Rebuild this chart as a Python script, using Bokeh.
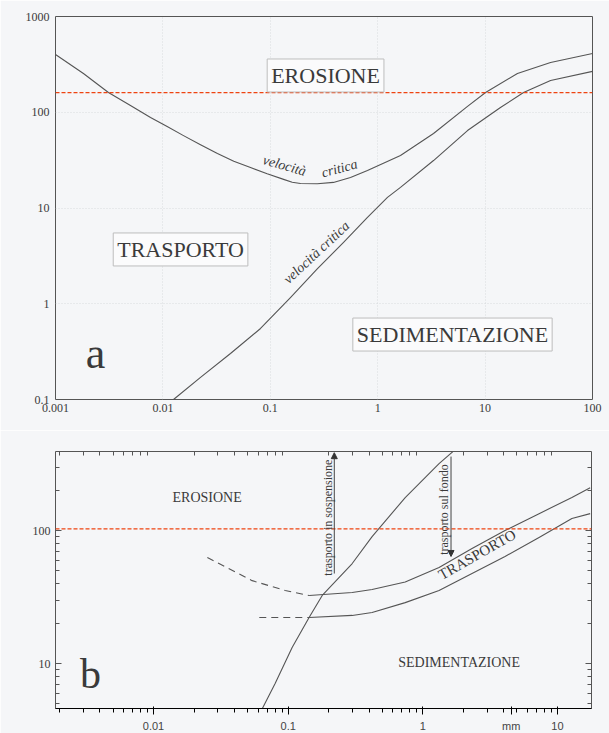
from bokeh.plotting import figure
from bokeh.models import (Label, Arrow, NormalHead, LogAxis, FixedTicker,
                          Range1d, Span)
from bokeh.layouts import column
from bokeh.embed import file_html
from bokeh.resources import INLINE

# ---------------- Panel a data ----------------
a_xticks = [0.001, 0.01, 0.1, 1, 10, 100]
a_xlabels = ["0.001", "0.01", "0.1", "1", "10", "100"]
a_yticks = [0.1, 1, 10, 100, 1000]
a_ylabels = ["0.1", "1", "10", "100", "1000"]

a_erosion_x = [0.001, 0.00182, 0.00311, 0.00499, 0.00767, 0.01096, 0.01556,
               0.0224, 0.0322, 0.0457, 0.0654, 0.0935, 0.133, 0.160, 0.191, 0.274,
               0.387, 0.558, 0.803, 1.63, 3.31, 6.86, 10.1, 20, 40.7, 100]
a_erosion_y = [401, 254, 161, 117.5, 88, 71, 57,
               45.7, 37, 30.8, 26.5, 22.8, 19.9, 18.6, 18.0, 17.9,
               18.5, 20.8, 24.6, 35.3, 60, 115, 161, 254, 331, 411]

a_settling_x = [0.01256, 0.0224, 0.0426, 0.0811, 0.154, 0.275, 0.481, 0.803, 1.233,
                1.63, 3.31, 6.86, 13.9, 22.8, 40.7, 100]
a_settling_y = [0.1, 0.170, 0.302, 0.552, 1.16, 2.33, 4.37, 7.96, 12.9,
                16.4, 31.3, 64.4, 112, 161, 215, 267]

a_threshold = 160

# ---------------- Panel b data ----------------
b_xticks = [0.01, 0.1, 1, 10]
b_xlabels = ["0.01", "0.1", "1", "10"]
b_unit_x = 4.53          # position of the "mm" unit text on the x axis
b_yticks = [10, 100]
b_ylabels = ["10", "100"]

b_settling_x = [0.0569, 0.080, 0.107, 0.143, 0.179, 0.299, 0.42, 0.74, 1.32, 1.71]
b_settling_y = [3.6, 7.08, 13.2, 22.2, 32.5, 56.5, 90, 177, 319, 400]

b_upper_dash_x = [0.0251, 0.054, 0.095, 0.143]
b_upper_dash_y = [62.7, 42, 35.4, 32.5]
b_upper_x = [0.143, 0.299, 0.42, 0.74, 1.32, 2.32, 4.08, 7.3, 12.8, 17.5]
b_upper_y = [32.5, 34.2, 36, 41, 52.7, 73.3, 100, 134, 177, 210]

b_lower_dash_x = [0.061, 0.143]
b_lower_dash_y = [22.2, 22.2]
b_lower_x = [0.143, 0.299, 0.42, 0.74, 1.32, 2.32, 4.08, 7.3, 12.8, 17.5]
b_lower_y = [22.2, 23, 24.2, 28.7, 35.4, 47.5, 63.8, 88.5, 123, 134]

b_threshold = 103

# ---------------- styling ----------------
SERIF = "Liberation Serif"
BG = "#f5f6f8"
INK = "#3a3a3a"
CURVE = "#555555"
RED = "#ee4411"


def base_fig(xr, yr, fw, fh, bl, br, bt, bb):
    p = figure(x_axis_type="log", y_axis_type="log", x_range=Range1d(*xr), y_range=Range1d(*yr),
               frame_width=fw, frame_height=fh, min_border_left=bl, min_border_right=br,
               min_border_top=bt, min_border_bottom=bb, output_backend="svg",
               toolbar_location=None, background_fill_color=BG, border_fill_color=BG)
    p.outline_line_color = "#555555"
    p.outline_line_width = 1
    return p


def lab(p, x, y, text, size, style="normal", angle=0, box=False, align="center",
        baseline="middle", **kw):
    extra = {}
    if box:
        extra = dict(background_fill_color="#fbfbfc", border_line_color="#bdbdbd", padding=4)
    p.add_layout(Label(x=x, y=y, text=text, text_font=SERIF, text_font_size=size,
                       text_font_style=style, text_color=INK, text_align=align,
                       text_baseline=baseline, angle=angle, angle_units="deg", **extra, **kw))


# ================= Panel a =================
pa = base_fig((0.001, 100), (0.1, 1000), 537, 383, 55, 17, 16, 31)
pa.xaxis.ticker = FixedTicker(ticks=a_xticks)
pa.yaxis.ticker = FixedTicker(ticks=a_yticks)
pa.xaxis.major_label_overrides = dict(zip(a_xticks, a_xlabels))
pa.yaxis.major_label_overrides = dict(zip(a_yticks, a_ylabels))
for ax in (pa.xaxis, pa.yaxis):
    ax.axis_line_color = None
    ax.major_tick_line_color = None
    ax.minor_tick_line_color = None
    ax.major_tick_out = 0
    ax.major_tick_in = 0
    ax.major_label_text_font = SERIF
    ax.major_label_text_font_size = "12px"
    ax.major_label_text_color = INK
pa.xaxis.major_label_standoff = 4
pa.yaxis.major_label_standoff = 6
pa.grid.grid_line_color = "#cfd0d4"
pa.grid.grid_line_dash = "1 2"
pa.grid.grid_line_alpha = 0.7

pa.add_layout(Span(location=a_threshold, dimension="width", line_color=RED,
                   line_dash="4 2", line_width=1.3))
pa.line(a_erosion_x, a_erosion_y, line_color=CURVE, line_width=1.1, line_join="round")
pa.line(a_settling_x, a_settling_y, line_color=CURVE, line_width=1.1, line_join="round")

lab(pa, 0.327, 242, "EROSIONE", "22px", box=True)
lab(pa, 0.0146, 3.69, "TRASPORTO", "22px", box=True)
lab(pa, 4.97, 0.477, "SEDIMENTAZIONE", "22px", box=True)
lab(pa, 0.00236, 0.302, "a", "44px")
lab(pa, 0.1355, 26.5, "velocità", "14px", style="italic", angle=-16, y_offset=2)
lab(pa, 0.44, 24.7, "critica", "14px", style="italic", angle=15, y_offset=2)
lab(pa, 0.306, 2.97, "velocità critica", "14px", style="italic", angle=43,
    x_offset=-6, y_offset=6)
lab(pa, 0.000756, 308, "cm/sec", "13px", style="italic", angle=90)
lab(pa, 30.8, 0.1, "mm", "13px", style="italic", y_offset=-9)

# ================= Panel b =================
b_minor_x = [m * 10.0 ** k for k in range(-3, 2) for m in range(2, 10)]
b_minor_y = [m * 10.0 ** k for k in range(0, 3) for m in range(2, 10)]

pb = base_fig((0.00187, 17.9), (4.59, 393), 536, 257, 53, 20, 21, 25)
pb.grid.visible = False
# bottom axis: decade labels plus the unit text; tick marks drawn as minor ticks
bottom_ticks = sorted(b_xticks + [b_unit_x])
pb.xaxis.ticker = FixedTicker(ticks=bottom_ticks, minor_ticks=b_minor_x + b_xticks)
pb.xaxis.major_label_overrides = {**dict(zip(b_xticks, b_xlabels)), b_unit_x: "mm"}
pb.yaxis.ticker = FixedTicker(ticks=b_yticks, minor_ticks=b_minor_y)
pb.yaxis.major_label_overrides = dict(zip(b_yticks, b_ylabels))

top_ax = LogAxis(ticker=FixedTicker(ticks=b_xticks, minor_ticks=b_minor_x),
                 major_label_overrides={t: "" for t in b_xticks})
right_ax = LogAxis(ticker=FixedTicker(ticks=b_yticks, minor_ticks=b_minor_y),
                   major_label_overrides={t: "" for t in b_yticks})
pb.add_layout(top_ax, "above")
pb.add_layout(right_ax, "right")

for ax in (pb.xaxis[0], pb.yaxis[0], top_ax, right_ax):
    ax.axis_line_color = None
    ax.major_tick_in = 6
    ax.major_tick_out = 0
    ax.minor_tick_in = 4
    ax.minor_tick_out = 0
    ax.major_tick_line_color = "#555555"
    ax.minor_tick_line_color = "#555555"
    ax.major_label_text_font = SERIF
    ax.major_label_text_font_size = "12px"
    ax.major_label_text_color = INK
for ax in (top_ax, right_ax):
    ax.major_label_standoff = 0
pb.xaxis[0].major_tick_line_color = None
pb.xaxis[0].major_tick_in = 0
pb.xaxis[0].major_label_text_font_size = "11px"
pb.xaxis[0].major_label_standoff = 2
pb.yaxis[0].major_label_standoff = 5

pb.add_layout(Span(location=b_threshold, dimension="width", line_color=RED,
                   line_dash="4 2", line_width=1.3))
pb.line(b_settling_x, b_settling_y, line_color=CURVE, line_width=1.1, line_join="round")
pb.line(b_upper_dash_x, b_upper_dash_y, line_color=CURVE, line_width=1.1, line_dash="7 5")
pb.line(b_upper_x, b_upper_y, line_color=CURVE, line_width=1.1, line_join="round")
pb.line(b_lower_dash_x, b_lower_dash_y, line_color=CURVE, line_width=1.1, line_dash="7 5")
pb.line(b_lower_x, b_lower_y, line_color=CURVE, line_width=1.1, line_join="round")

pb.add_layout(Arrow(end=NormalHead(size=6, fill_color="#333333", line_color="#333333"),
                    x_start=0.22, y_start=47.5, x_end=0.22, y_end=385,
                    line_color="#444444", line_width=1))
pb.add_layout(Arrow(end=NormalHead(size=6, fill_color="#333333", line_color="#333333"),
                    x_start=1.62, y_start=360, x_end=1.62, y_end=63.8,
                    line_color="#444444", line_width=1))

lab(pb, 0.025, 177, "EROSIONE", "14px")
lab(pb, 1.86, 10.2, "SEDIMENTAZIONE", "14px")
lab(pb, 2.53, 66, "TRASPORTO", "15px", angle=29.6)
lab(pb, 0.199, 125, "trasporto in sospensione", "12px", angle=90)
lab(pb, 1.43, 144, "trasporto sul fondo", "12px", angle=90)
lab(pb, 0.0034, 8.3, "b", "42px")
lab(pb, 0.00158, 225, "cm/sec", "13px", style="italic", angle=90)

layout = column(pa, pb)
open("out.html", "w").write(file_html(layout, INLINE))
